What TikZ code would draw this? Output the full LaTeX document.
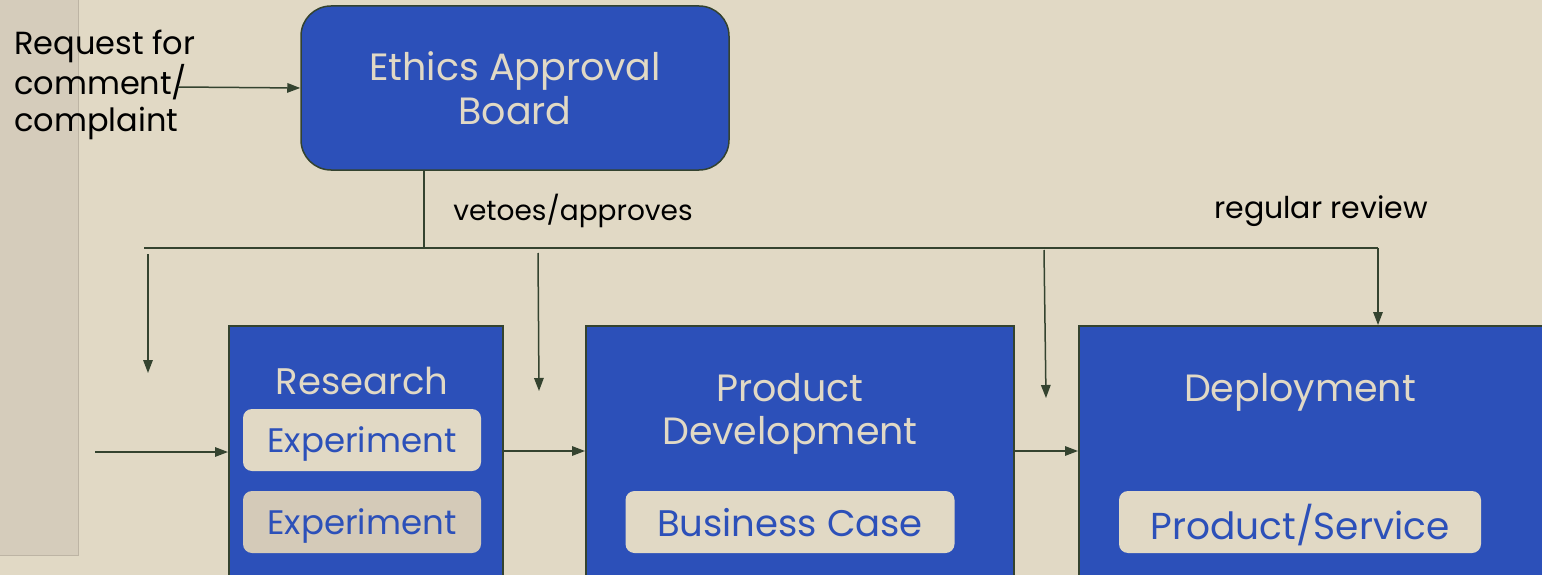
\documentclass[tikz,border=0pt]{standalone}
\usepackage{fontspec}
\setmainfont{Poppins}
\usetikzlibrary{arrows.meta}
\definecolor{bg}{HTML}{E1D9C5}
\definecolor{strip}{HTML}{D5CCBB}
\definecolor{stripedge}{HTML}{BDB4A4}
\definecolor{boxblue}{HTML}{2C50B9}
\definecolor{edge}{HTML}{34432F}
\definecolor{chipdark}{HTML}{D4CAB8}
\begin{document}
\begin{tikzpicture}[x=1pt,y=-1pt,
  stage/.style={draw=edge, line width=1.5pt, fill=boxblue, rectangle,
    inner sep=0pt, anchor=north west},
  boardbox/.style={draw=edge, line width=1.5pt, fill=boxblue, rounded corners=30pt,
    inner sep=0pt, minimum width=428pt, minimum height=164pt,
    text=bg, align=center, font=\fontsize{38}{44}\selectfont},
  title/.style={text=bg, align=center, inner sep=0pt, font=\fontsize{38}{43}\selectfont},
  chip/.style={fill=bg, rounded corners=9pt, inner sep=0pt, minimum height=62pt,
    text=boxblue, text depth=0pt},
  chipshade/.style={chip, fill=chipdark},
  caption/.style={text=black, inner sep=0pt, font=\fontsize{28}{37}\selectfont},
  flow/.style={draw=edge, line width=1.5pt, -{Triangle[length=13pt,width=9.5pt]}},
  wire/.style={draw=edge, line width=1.5pt},
]
\useasboundingbox (0,0) rectangle (1542,575);
\clip (0,0) rectangle (1542,575);
\fill[bg] (0,0) rectangle (1542,575);
% textured side strip
\fill[strip] (0,0) rectangle (78,555);
\draw[stripedge, line width=1pt] (78,0) -- (78,555) -- (0,555);

% board and incoming requests
\node[boardbox] (board) at (515,88) {Ethics Approval\\Board};
\node[caption, anchor=north west, align=left, font=\fontsize{32}{37.5}\selectfont] (req) at (14,30)
  {Request for\\comment/\\complaint};
\coordinate (reqtail) at (178,87);
\draw[flow] (reqtail) -- (board.west);

% stage boxes
\node[stage, minimum width=274pt, minimum height=280pt] (research) at (228,325) {};
\node[stage, minimum width=428pt, minimum height=280pt] (proddev) at (585,325) {};
\node[stage, minimum width=480pt, minimum height=280pt] (deploy) at (1078,325) {};

\node[title, font=\fontsize{37}{43}\selectfont] (researchT) at (362,381) {Research};
\node[title] (proddevT) at (790,414) {Product\\Development};
\node[title] (deployT) at (1300,392) {Deployment};

\node[chip, minimum width=238pt, font=\fontsize{34}{40}\selectfont] (exp1) at (362,440) {Experiment};
\node[chipshade, minimum width=238pt, font=\fontsize{34}{40}\selectfont] (exp2) at (362,522) {Experiment};
\node[chip, minimum width=329pt, font=\fontsize{37}{44}\selectfont] (bcase) at (790,522) {Business Case};
\node[chip, minimum width=362pt, font=\fontsize{37.5}{44}\selectfont] (prodsvc) at (1300,522) {Product/Service};

% review bus from the board
\coordinate (tap) at (424,248);
\coordinate (busL) at (144,248);
\coordinate (busR) at (1378,248);
\draw[wire] (board.south -| tap) -- (tap);
\draw[wire] (busL) -- (busR);
\node[caption] (vetoes) at (573,211) {vetoes/approves};
\node[caption, font=\fontsize{30}{37}\selectfont] (review) at (1321,211) {regular review};

\coordinate (d1s) at (148,254);  \coordinate (d1e) at (148,373);
\coordinate (d2s) at (538,253);  \coordinate (d2e) at (539,391);
\coordinate (d3s) at (1044,250); \coordinate (d3e) at (1046,398);
\draw[flow] (d1s) -- (d1e);
\draw[flow] (d2s) -- (d2e);
\draw[flow] (d3s) -- (d3e);
\draw[flow] (busR) -- (deploy.north -| busR);

% pipeline
\coordinate (row) at (0,451);
\coordinate (intail) at (95,452);
\draw[flow] (intail) -- (intail -| research.west);
\draw[flow] (research.east |- row) -- (proddev.west |- row);
\draw[flow] (proddev.east |- row) -- (deploy.west |- row);
\end{tikzpicture}
\end{document}
